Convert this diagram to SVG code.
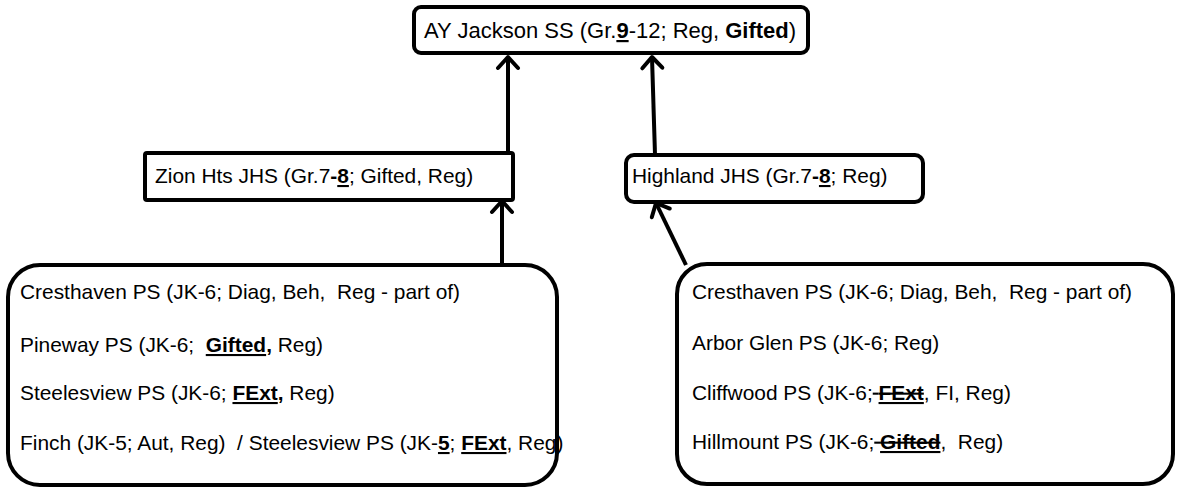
<svg xmlns="http://www.w3.org/2000/svg" width="1177" height="487" viewBox="0 0 1177 487">
<style>
.box{fill:#fff;stroke:#000;stroke-width:4}
.t{font-family:"Liberation Sans",Arial,sans-serif;font-size:20.9px;fill:#000;white-space:pre}
.big{font-size:22px}
.b{font-weight:bold}
.u{text-decoration:underline}
.s{text-decoration:line-through}
.su{text-decoration:underline line-through}
.conn{stroke:#000;stroke-width:4;fill:none}
</style>
<defs>
<marker id="arr" markerUnits="userSpaceOnUse" markerWidth="30" markerHeight="30" refX="0" refY="0" viewBox="-15 -15 30 30" orient="auto" overflow="visible">
<path d="M-11,-10 L0,0 L-11,10" fill="none" stroke="#000" stroke-width="4" stroke-linecap="round" stroke-linejoin="round"/>
</marker>
</defs>
<g id="connectors">
<line class="conn" x1="508" y1="153" x2="508" y2="57" marker-end="url(#arr)"/>
<line class="conn" x1="655" y1="155" x2="652" y2="57" marker-end="url(#arr)"/>
<line class="conn" x1="502" y1="265" x2="502" y2="201" marker-end="url(#arr)"/>
<line class="conn" x1="686" y1="265" x2="656" y2="203" marker-end="url(#arr)"/>
</g>
<g id="ay-jackson">
<rect class="box" x="414" y="7" width="394" height="46" rx="7"/>
<text class="t big" x="424" y="38">AY Jackson SS (Gr.<tspan class="b u">9</tspan>-12; Reg, <tspan class="b">Gifted</tspan>)</text>
</g>
<g id="zion-hts">
<rect class="box" x="145" y="153" width="368" height="47" rx="2"/>
<text class="t" x="155" y="183">Zion Hts JHS (Gr.7<tspan class="b">-</tspan><tspan class="b u">8</tspan>; Gifted, Reg)</text>
</g>
<g id="highland">
<rect class="box" x="626" y="155" width="297" height="47" rx="8"/>
<text class="t" x="632" y="183">Highland JHS (Gr.7<tspan class="b">-</tspan><tspan class="b u">8</tspan>; Reg)</text>
</g>
<g id="zion-feeders">
<rect class="box" x="8" y="265" width="549" height="220" rx="32"/>
<text class="t" x="20" y="299">Cresthaven PS (JK-6; Diag, Beh,  Reg - part of)</text>
<text class="t" x="20" y="352">Pineway PS (JK-6;  <tspan class="b u">Gifted</tspan><tspan class="b">,</tspan> Reg)</text>
<text class="t" x="20" y="400">Steelesview PS (JK-6; <tspan class="b u">FExt</tspan><tspan class="b">,</tspan> Reg)</text>
<text class="t" x="20" y="450">Finch (JK-5; Aut, Reg)  / Steelesview PS (JK-<tspan class="b u">5</tspan>; <tspan class="b u">FExt</tspan>, Reg)</text>
</g>
<g id="highland-feeders">
<rect class="box" x="677" y="264" width="496" height="220" rx="30"/>
<text class="t" x="692" y="299">Cresthaven PS (JK-6; Diag, Beh,  Reg - part of)</text>
<text class="t" x="692" y="350">Arbor Glen PS (JK-6; Reg)</text>
<text class="t" x="692" y="400">Cliffwood PS (JK-6;<tspan class="s"> </tspan><tspan class="b su">FExt</tspan>, FI, Reg)</text>
<text class="t" x="692" y="449">Hillmount PS (JK-6;<tspan class="s"> </tspan><tspan class="b su">Gifted</tspan>,  Reg)</text>
</g>
</svg>
